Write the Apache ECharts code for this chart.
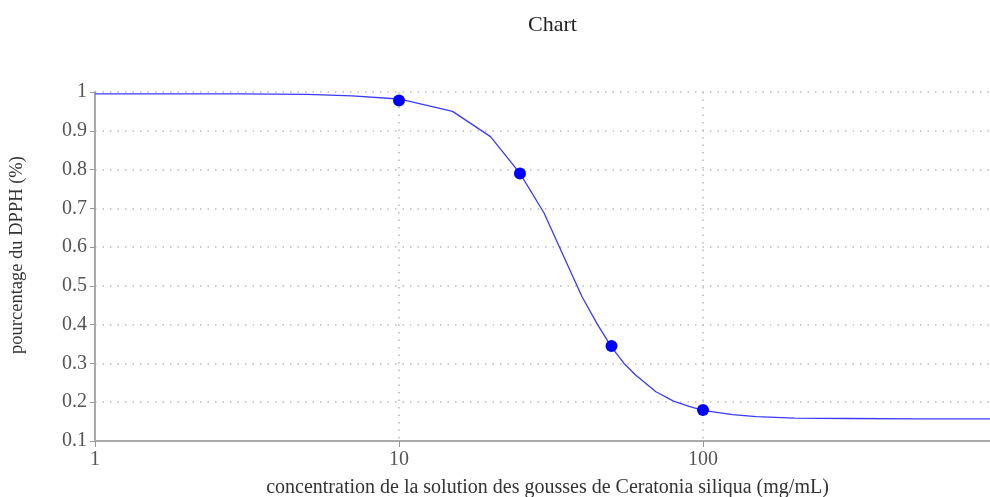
<!DOCTYPE html>
<html>
<head>
<meta charset="utf-8">
<script src="https://cdn.jsdelivr.net/npm/echarts@6/dist/echarts.min.js"></script>
<style>html,body{margin:0;padding:0;background:#fff}#c{width:990px;height:497px}</style>
</head>
<body>
<div id="c"></div>
<script>
// Measured points
const pointX = [10, 25, 50, 100];
const pointY = [0.978, 0.79, 0.345, 0.18];
// Fitted curve
const curveX = [1, 3, 5, 7, 10, 15, 20, 25, 30, 35, 40, 45, 50, 55, 60, 70, 80, 90, 100, 125, 150, 200, 300, 500, 1000];
const curveY = [0.995, 0.995, 0.994, 0.99, 0.982, 0.95, 0.885, 0.79, 0.688, 0.572, 0.472, 0.4, 0.342, 0.3, 0.27, 0.227, 0.203, 0.189, 0.179, 0.168, 0.163, 0.159, 0.158, 0.157, 0.157];
const yTicks = [0.1, 1, 0.1]; // min, max, interval
const xLabels = ['1', '10', '100'];

const chart = echarts.init(document.getElementById('c'));
const serif = '"Liberation Serif", "DejaVu Serif", serif';
chart.setOption({
  animation: false,
  title: { text: 'Chart', left: 523, top: 9, textStyle: { fontFamily: serif, fontSize: 22, fontWeight: 'normal', color: '#222' } },
  grid: { left: 95, right: -17, top: 92, bottom: 56, outerBoundsMode: 'none', containLabel: false },
  graphic: [{
    type: 'text', x: 17, y: 255, rotation: Math.PI / 2,
    style: { text: 'pourcentage du DPPH (%)', fontFamily: serif, fontSize: 18.5, fill: '#333', align: 'center', verticalAlign: 'middle' }
  }],
  xAxis: {
    type: 'log', logBase: 10, min: 1, max: 1000,
    name: 'concentration de la solution des gousses de Ceratonia siliqua (mg/mL)',
    nameLocation: 'middle', nameGap: 37,
    nameTextStyle: { fontFamily: serif, fontSize: 20, color: '#333', padding: [0, 7, 0, 0] },
    axisLine: { lineStyle: { color: '#aaa', width: 2 } },
    axisTick: { length: 6, lineStyle: { color: '#999' } },
    axisLabel: { fontFamily: serif, fontSize: 20, color: '#555', margin: 9,
      formatter: v => xLabels.indexOf(String(v)) >= 0 ? String(v) : '' },
    splitLine: { show: true, lineStyle: { type: [1.5, 6], color: '#bbb', width: 1.5 } }
  },
  yAxis: {
    type: 'value', min: yTicks[0], max: yTicks[1], interval: yTicks[2],
    axisLine: { show: true, lineStyle: { color: '#aaa', width: 2 } },
    axisTick: { show: true, length: 5, lineStyle: { color: '#999' } },
    axisLabel: { fontFamily: serif, fontSize: 20, color: '#555', margin: 8,
      formatter: v => String(Math.round(v * 10) / 10) },
    splitLine: { show: true, lineStyle: { type: [1.5, 6], color: '#bbb', width: 1.5 } }
  },
  series: [
    {
      type: 'line', data: curveX.map((x, i) => [x, curveY[i]]),
      showSymbol: false, symbol: 'none',
      lineStyle: { color: '#3a3aff', width: 1.3 }, z: 2
    },
    {
      type: 'scatter', data: pointX.map((x, i) => [x, pointY[i]]),
      symbolSize: 12, itemStyle: { color: '#0000ff', opacity: 1 }, z: 3
    }
  ]
});
</script>
</body>
</html>
